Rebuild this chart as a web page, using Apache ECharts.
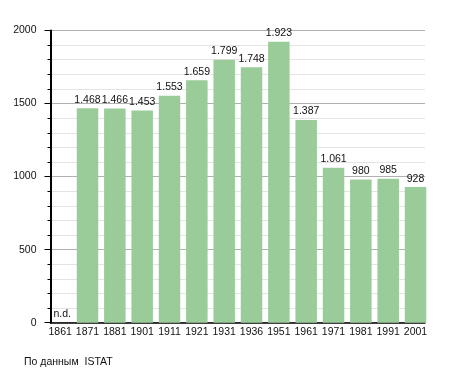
<!DOCTYPE html>
<html><head><meta charset="utf-8">
<script src="https://cdn.jsdelivr.net/npm/echarts@6/dist/echarts.min.js"></script>
<style>html,body{margin:0;padding:0;background:#fff}#c{width:455px;height:373px}</style>
</head><body><div id="c"></div>
<script>
const categories = ['1861','1871','1881','1901','1911','1921','1931','1936','1951','1961','1971','1981','1991','2001'];
const population = [0,1468,1466,1453,1553,1659,1799,1748,1923,1387,1061,980,985,928];
const yTicks = [0,500,1000,1500,2000];

function fmt(v){
  if (v === 0) return 'n.d.';
  if (v >= 1000) return Math.floor(v/1000) + '.' + String(v%1000).padStart(3,'0');
  return String(v);
}
const FONT = '"Liberation Sans", Arial, sans-serif';
const barData = population.map(v => v === 0 ? {value:v, label:{offset:[2,0]}} : v);
const chart = echarts.init(document.getElementById('c'), null, {renderer:'canvas'});
chart.setOption({
  animation:false,
  backgroundColor:'#fff',
  textStyle:{fontFamily:FONT},
  title:{text:'По данным  ISTAT', left:19, top:352, textStyle:{fontFamily:FONT, fontSize:10.5, fontWeight:'normal', color:'#111'}},
  grid:[
    {left:50.5, right:30, top:30.5, bottom:50.3},
    {left:46.5, right:25.8, top:30.5, bottom:50.3}
  ],
  xAxis:[
    {gridIndex:0, type:'category', data:categories, axisLine:{show:true, lineStyle:{color:'#000', width:1.5}}, axisTick:{show:false}, axisLabel:{show:false}},
    {gridIndex:1, type:'category', data:categories, axisLine:{show:false}, axisTick:{show:false},
     axisLabel:{fontSize:10.5, color:'#111', margin:4, fontFamily:FONT, interval:0}}
  ],
  yAxis:[
    {gridIndex:0, type:'value', min:yTicks[0], max:yTicks[yTicks.length-1], interval:500,
     axisLine:{show:true, lineStyle:{color:'#000', width:2}},
     axisTick:{show:true, length:6, lineStyle:{color:'#000'}},
     minorTick:{show:true, splitNumber:5, length:3, lineStyle:{color:'#000'}},
     axisLabel:{fontSize:10.5, color:'#111', margin:14, fontFamily:FONT, formatter:v=>String(v)},
     splitLine:{show:true, lineStyle:{color:'#b0b0b0', width:1}},
     minorSplitLine:{show:true, lineStyle:{color:'#e4e4e4', width:1}}},
    {gridIndex:1, type:'value', min:yTicks[0], max:yTicks[yTicks.length-1], show:false, splitLine:{show:false}}
  ],
  series:[{
    type:'bar', xAxisIndex:1, yAxisIndex:1, data:barData, barWidth:21.5,
    itemStyle:{color:'#99cc99'},
    label:{show:true, position:'top', distance:3, fontSize:10.5, color:'#111', fontFamily:FONT,
      formatter:p=>fmt(p.value)}
  }]
});
</script></body></html>
